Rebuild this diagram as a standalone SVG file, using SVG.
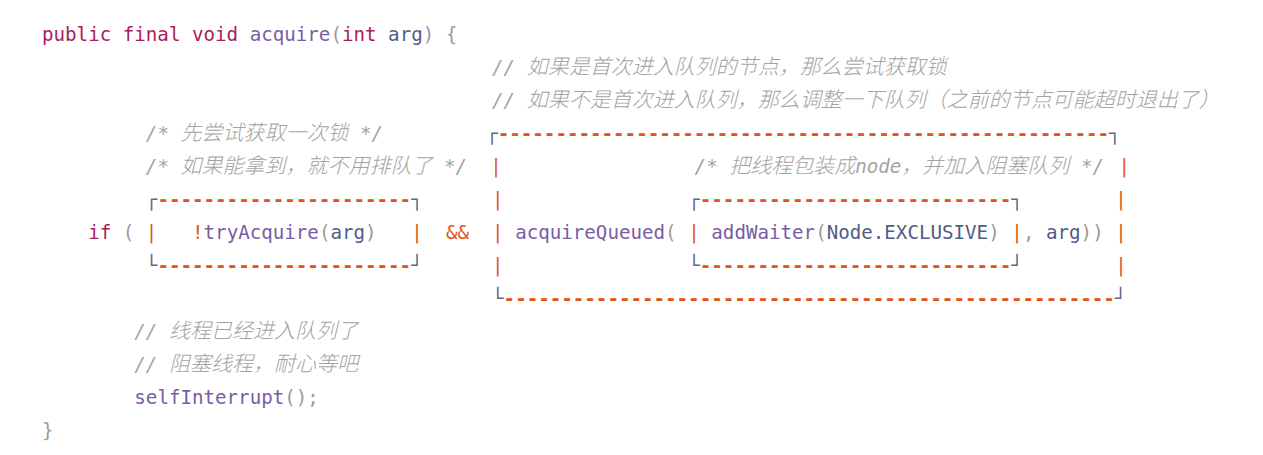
<svg xmlns="http://www.w3.org/2000/svg" width="1263" height="455" viewBox="0 0 1263 455" xml:space="preserve">
<style>
text{font-family:"DejaVu Sans Mono","Liberation Mono",monospace;font-size:19.17px;fill:#5e688c}
.cm{fill:#a3a3a3;font-style:italic}
.cj{font-family:"Noto Sans CJK SC","Noto Sans CJK JP",sans-serif;font-size:21px;font-weight:300}
.k{fill:#a71d5d}
.f{fill:#795da3}
.v{fill:#505c88}
.p{fill:#9a9a9a}
.o{fill:#e0581d}
.d{fill:#e0561a;font-weight:bold}
.b{fill:#5e688c}
</style>
<rect width="1263" height="455" fill="#ffffff"/>
<g id="signature">
<text x="42" y="41"><tspan class="k">public</tspan> <tspan class="k">final</tspan> <tspan class="k">void</tspan> <tspan class="f">acquire</tspan><tspan class="p">(</tspan><tspan class="k">int</tspan> <tspan class="v">arg</tspan><tspan class="p">) {</tspan></text>
</g>
<g id="comments-queue">
<text class="cm" x="492.06" y="74">// <tspan class="cj">如果是首次进入队列的节点，那么尝试获取锁</tspan></text>
<text class="cm" x="492.06" y="107">// <tspan class="cj">如果不是首次进入队列，那么调整一下队列（之前的节点可能超时退出了）</tspan></text>
</g>
<g id="comments-try">
<text class="cm" x="145.86" y="140">/* <tspan class="cj">先尝试获取一次锁</tspan> */</text>
<text class="cm" x="145.86" y="173">/* <tspan class="cj">如果能拿到，就不用排队了</tspan> */</text>
</g>
<g id="box-acquireQueued">
<text x="486.2" y="140"><tspan class="b">┌</tspan><tspan class="d">-----------------------------------------------------</tspan><tspan class="b">┐</tspan></text>
<text class="o" x="490.3" y="173">|</text>
<text class="cm" x="694.6" y="173">/* <tspan class="cj">把线程包装成</tspan>node<tspan class="cj">，并加入阻塞队列</tspan> */</text>
<text class="o" x="1118.5" y="173">|</text>
<text class="o" x="492.06" y="206">|</text>
<text class="o" x="1115.22" y="206">|</text>
<text class="o" x="492.06" y="239">|</text>
<text x="515.14" y="239"><tspan class="f">acquireQueued</tspan><tspan class="p">(</tspan></text>
<text x="1022.9" y="239"><tspan class="p">,</tspan> <tspan class="v">arg</tspan><tspan class="p">))</tspan></text>
<text class="o" x="1115.22" y="239">|</text>
<text class="o" x="492.06" y="272">|</text>
<text class="o" x="1115.22" y="272">|</text>
<text x="492.06" y="305"><tspan class="b">└</tspan><tspan class="d">-----------------------------------------------------</tspan><tspan class="b">┘</tspan></text>
</g>
<g id="box-tryAcquire">
<text x="145.86" y="206"><tspan class="b">┌</tspan><tspan class="d">----------------------</tspan><tspan class="b">┐</tspan></text>
<text class="o" x="145.86" y="239">|</text>
<text x="192.02" y="239"><tspan class="o">!</tspan><tspan class="f">tryAcquire</tspan><tspan class="p">(</tspan><tspan class="v">arg</tspan><tspan class="p">)</tspan></text>
<text class="o" x="411.28" y="239">|</text>
<text x="145.86" y="272"><tspan class="b">└</tspan><tspan class="d">----------------------</tspan><tspan class="b">┘</tspan></text>
</g>
<g id="box-addWaiter">
<text x="688.24" y="206"><tspan class="b">┌</tspan><tspan class="d">---------------------------</tspan><tspan class="b">┐</tspan></text>
<text class="o" x="688.24" y="239">|</text>
<text x="711.32" y="239"><tspan class="f">addWaiter</tspan><tspan class="p">(</tspan><tspan class="v">Node.EXCLUSIVE</tspan><tspan class="p">)</tspan></text>
<text class="o" x="1011.36" y="239">|</text>
<text x="688.24" y="272"><tspan class="b">└</tspan><tspan class="d">---------------------------</tspan><tspan class="b">┘</tspan></text>
</g>
<g id="if-line">
<text class="k" x="88.16" y="239">if</text>
<text class="p" x="122.78" y="239">(</text>
<text class="o" x="445.9" y="239">&amp;&amp;</text>
</g>
<g id="body">
<text class="cm" x="134.32" y="338">// <tspan class="cj">线程已经进入队列了</tspan></text>
<text class="cm" x="134.32" y="371">// <tspan class="cj">阻塞线程，耐心等吧</tspan></text>
<text x="134.32" y="404"><tspan class="f">selfInterrupt</tspan><tspan class="p">();</tspan></text>
<text class="p" x="42" y="437">}</text>
</g>
</svg>
